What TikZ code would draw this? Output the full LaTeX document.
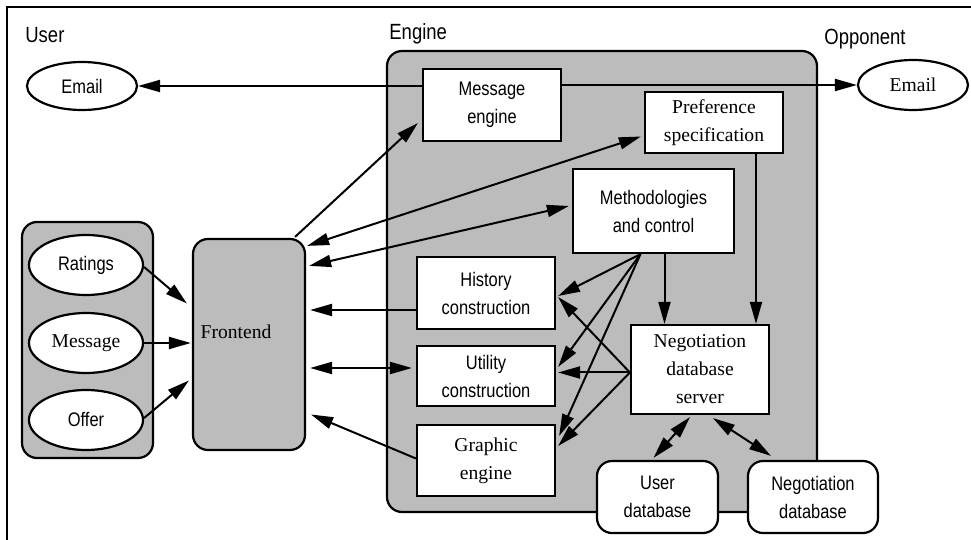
\documentclass[tikz,border=0pt]{standalone}
\usepackage{fontspec}
\setmainfont{Liberation Serif}
\newfontfamily\sn[FakeStretch=0.84]{Liberation Sans}
\usetikzlibrary{arrows.meta,calc,shapes.geometric}
\definecolor{boxgray}{RGB}{188,188,188}
\tikzset{
  tip/.tip={Triangle[length=11pt,width=6pt]},
  arr/.style={line width=1pt,-tip},
  darr/.style={line width=1pt,tip-tip},
  sans/.style={font=\sn\fontsize{9.8}{14}\selectfont},
  serif/.style={font=\fontsize{9.8}{14}\selectfont},
  lbl/.style={font=\sn\fontsize{11}{13}\selectfont,inner sep=0pt},
  wbox/.style={draw,line width=1.1pt,fill=white,inner sep=0pt,align=center},
  rbox/.style={wbox,rounded corners=7.5pt},
  gbox/.style={draw,line width=1.1pt,fill=boxgray,rounded corners=7.5pt,inner sep=0pt},
  ell/.style={draw,ellipse,line width=1.1pt,fill=white,inner sep=0pt},
}
\begin{document}
\begin{tikzpicture}[x=0.5pt,y=-0.5pt]
\useasboundingbox (0,0) rectangle (971,540);
% frame
\draw[line width=1pt] (7,540) -- (7,7) -- (971,7);
% labels
\node[lbl,anchor=base west] (luser) at (25,43) {User};
\node[lbl,anchor=base west] (lengine) at (389,40) {Engine};
\node[lbl,anchor=base west] (lopp) at (824,45) {Opponent};
% emails
\node[ell,sans,minimum width=55pt,minimum height=24pt] (emailL) at (82,86) {Email};
\node[ell,serif,minimum width=55pt,minimum height=25pt] (emailR) at (913,85) {Email};
% engine
\node[gbox,minimum width=215pt,minimum height=230.5pt] (engine) at (602,281.5) {};
\node[wbox,sans,minimum width=69pt,minimum height=36pt] (msg) at (492,105) {Message\\engine};
\node[wbox,serif,minimum width=69pt,minimum height=30.5pt] (pref) at (714,122.5) {Preference\\specification};
\node[wbox,sans,minimum width=80.5pt,minimum height=42pt] (meth) at (653.5,211) {Methodologies\\and control};
\node[wbox,sans,minimum width=69pt,minimum height=36pt] (hist) at (486,293) {History\\construction};
\node[wbox,sans,minimum width=69pt,minimum height=30pt] (util) at (486,376) {Utility\\construction};
\node[wbox,serif,minimum width=69pt,minimum height=35.5pt] (graph) at (486,460.5) {Graphic\\engine};
\node[wbox,serif,minimum width=69pt,minimum height=44.5pt] (neg) at (700,369.5) {Negotiation\\database\\server};
\node[rbox,sans,minimum width=60.5pt,minimum height=36pt] (udb) at (657.5,497) {User\\database};
\node[rbox,sans,minimum width=65pt,minimum height=36pt] (ndb) at (813,497) {Negotiation\\database};
% user side
\node[gbox,minimum width=65.5pt,minimum height=118pt] (inbox) at (87.5,340) {};
\node[ell,sans,minimum width=57pt,minimum height=30pt] (ratings) at (86,265) {Ratings};
\node[ell,serif,minimum width=57pt,minimum height=30pt] (message) at (86,343) {Message};
\node[ell,sans,minimum width=57pt,minimum height=30pt] (offer) at (86,420) {Offer};
\node[gbox,minimum width=56pt,minimum height=105.5pt] (front) at (249,344.5) {};
\node[serif,anchor=base,inner sep=0pt] (frontlbl) at (236,339) {Frontend};
% connectors
\draw[arr] (msg.west |- emailL.east) -- (emailL.east);
\draw[arr] (msg.east |- emailR.west) -- (emailR.west);
\draw[arr] ($(front.north east)+(-11,-1)$) -- ($(msg.west)+(-4,18)$);
\draw[darr] ($(front.north east)+(1,8)$) -- ($(pref.west)+(-3,14)$);
\draw[darr] ($(front.north east)+(3,28)$) -- ($(meth.west)+(-3,-5)$);
\draw[arr] ($(hist.west)+(0,17)$) -- ($(front.east |- hist.west)+(4,17)$);
\draw[darr] ($(front.east |- util.west)+(4,-8)$) -- ($(util.west)+(-4,-8)$);
\draw[arr] ($(graph.west)+(0,-2)$) -- ($(front.east)+(5,70)$);
\draw[arr] ($(ratings.east)+(0,2)$) -- ($(front.west)+(-5,-41)$);
\draw[arr] (message.east) -- ($(message.east -| front.west)+(-1,0)$);
\draw[arr] ($(offer.east)+(0,-2)$) -- ($(front.west)+(-3,36)$);
\coordinate (mapex) at ($(meth.south)+(-13,0)$);
\draw[arr] (mapex) -- ($(hist.east)+(2,3)$);
\draw[arr] (mapex) -- ($(util.east)+(2,-9)$);
\draw[arr] (mapex) -- ($(graph.east)+(3,-24.5)$);
\coordinate (ms) at ($(meth.south)+(11,0)$);
\draw[arr] (ms) -- (ms |- neg.north);
\coordinate (ps) at ($(pref.south)+(42,0)$);
\draw[arr] (ps) -- (ps |- neg.north);
\coordinate (nw) at ($(neg.west)+(0,3)$);
\draw[arr] (nw) -- ($(hist.east)+(2,4)$);
\draw[arr] (nw) -- ($(nw -| util.east)+(2,0)$);
\draw[arr] (nw) -- ($(graph.east)+(2,-14.5)$);
\draw[darr] ($(neg.south)+(-10,2)$) -- ($(udb.north)+(-4,-2)$);
\draw[darr] ($(neg.south)+(13,3)$) -- ($(ndb.north)+(-42,-4)$);
\end{tikzpicture}
\end{document}
